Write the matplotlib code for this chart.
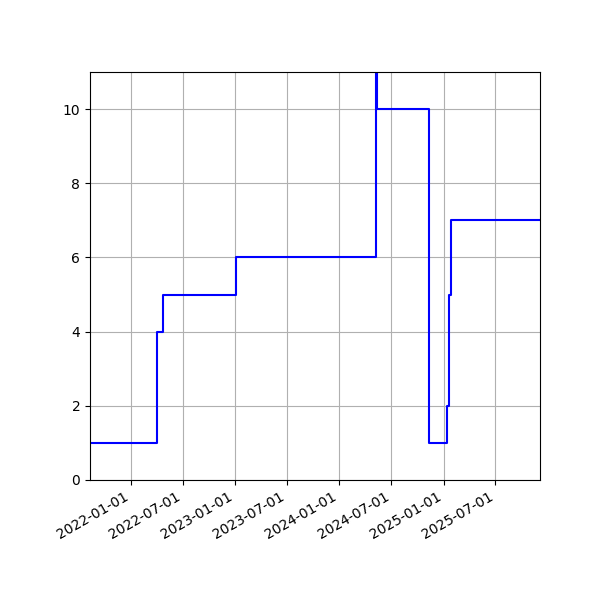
import matplotlib
matplotlib.use("Agg")
import matplotlib.pyplot as plt
import matplotlib.dates as mdates
import pandas as pd

dates = ["2021-08-01", "2022-04-03", "2022-04-23", "2023-01-04", "2024-05-08",
         "2024-05-13", "2024-11-10", "2025-01-13", "2025-01-20", "2025-01-25",
         "2025-01-27", "2025-12-31"]
values = [1, 4, 5, 6, 15, 10, 1, 2, 5, 6, 7, 7]

x = pd.to_datetime(dates)

fig, ax = plt.subplots(figsize=(6, 6), dpi=100)
ax.plot(x, values, color="blue", drawstyle="steps-post", linewidth=1.5)
ax.set_ylim(0, 11)
ax.set_xlim(pd.Timestamp("2021-08-11"), pd.Timestamp("2025-12-04"))
ax.xaxis.set_major_locator(mdates.MonthLocator(bymonth=(1, 7)))
ax.xaxis.set_major_formatter(mdates.DateFormatter("%Y-%m-%d"))
ax.grid(True)
fig.autofmt_xdate()
fig.subplots_adjust(left=0.15, right=0.9, top=0.88, bottom=0.2)
fig.savefig("out.png")
